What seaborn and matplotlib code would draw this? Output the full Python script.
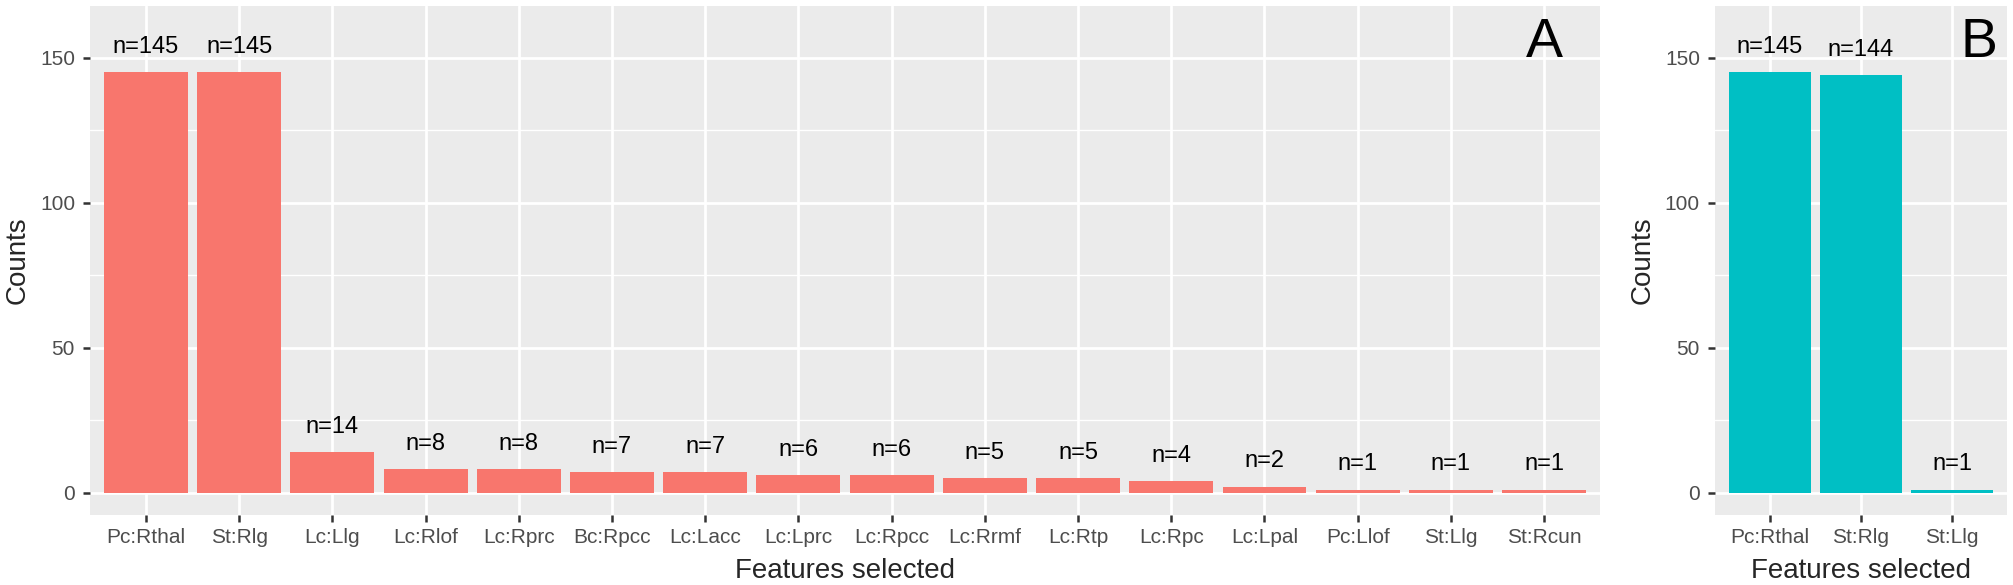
#!/usr/bin/env python3
"""
Bar charts of selected features (panel A: all, panel B: subset)
"""
import matplotlib
matplotlib.use('Agg')
import matplotlib.pyplot as plt
import seaborn as sns
import pandas as pd
from matplotlib.ticker import FixedLocator

# Data
features_a = ['Pc:Rthal', 'St:Rlg', 'Lc:Llg', 'Lc:Rlof', 'Lc:Rprc', 'Bc:Rpcc', 'Lc:Lacc',
              'Lc:Lprc', 'Lc:Rpcc', 'Lc:Rrmf', 'Lc:Rtp', 'Lc:Rpc', 'Lc:Lpal', 'Pc:Llof',
              'St:Llg', 'St:Rcun']
counts_a = [145, 145, 14, 8, 8, 7, 7, 6, 6, 5, 5, 4, 2, 1, 1, 1]

features_b = ['Pc:Rthal', 'St:Rlg', 'St:Llg']
counts_b = [145, 144, 1]

# Style
sns.set_style("darkgrid", {'axes.facecolor': '#EBEBEB', 'grid.color': 'white'})
plt.rcParams['font.family'] = ['Liberation Sans', 'DejaVu Sans']

W, H = 2013, 585
fig = plt.figure(figsize=(W / 100, H / 100), dpi=100)


def panel(rect_px, feats, vals, color, letter, letter_x, ylab_x):
    left, right, top, bottom = rect_px
    ax = fig.add_axes([left / W, 1 - bottom / H, (right - left) / W, (bottom - top) / H])
    df = pd.DataFrame({'feature': feats, 'count': vals})
    sns.barplot(data=df, x='feature', y='count', color=color, width=0.9,
                saturation=1, ax=ax, order=feats, edgecolor='none', linewidth=0)
    for i, v in enumerate(vals):
        ax.text(i, v + 6.7, f'n={v}', ha='center', va='baseline', fontsize=17, color='black')
    ax.text(letter_x, 150.3, letter, ha='center', va='baseline', fontsize=40, color='black')

    ax.set_xlim(-0.6, len(feats) - 0.4)
    ax.set_ylim(-7.7, 167.8)
    ax.set_yticks([0, 50, 100, 150])
    ax.yaxis.set_minor_locator(FixedLocator([25, 75, 125]))
    ax.grid(which='major', color='white', linewidth=2)
    ax.grid(which='minor', axis='y', color='white', linewidth=1)
    ax.set_axisbelow(True)
    for s in ax.spines.values():
        s.set_visible(False)
    ax.tick_params(axis='both', which='major', length=5.3, width=1.8, color='#333333',
                   labelsize=15, labelcolor='#4D4D4D', bottom=True, left=True)
    ax.tick_params(axis='x', pad=4)
    ax.tick_params(axis='y', pad=5.5)
    ax.tick_params(which='minor', length=0)

    h = bottom - top
    ax.set_xlabel('Features selected', fontsize=20, va='baseline')
    ax.xaxis.set_label_coords(0.5, (bottom - 578.3) / h)
    ax.set_ylabel('Counts', fontsize=20, va='center')
    ax.yaxis.set_label_coords((ylab_x - left) / (right - left), 0.5)
    return ax


panel((90, 1600, 6, 515), features_a, counts_a, '#F8766D', 'A', 15, 18)
panel((1715, 2007, 6, 515), features_b, counts_b, '#00BFC4', 'B', 2.29, 1643)

plt.savefig('out.png', dpi=100)
plt.close()
